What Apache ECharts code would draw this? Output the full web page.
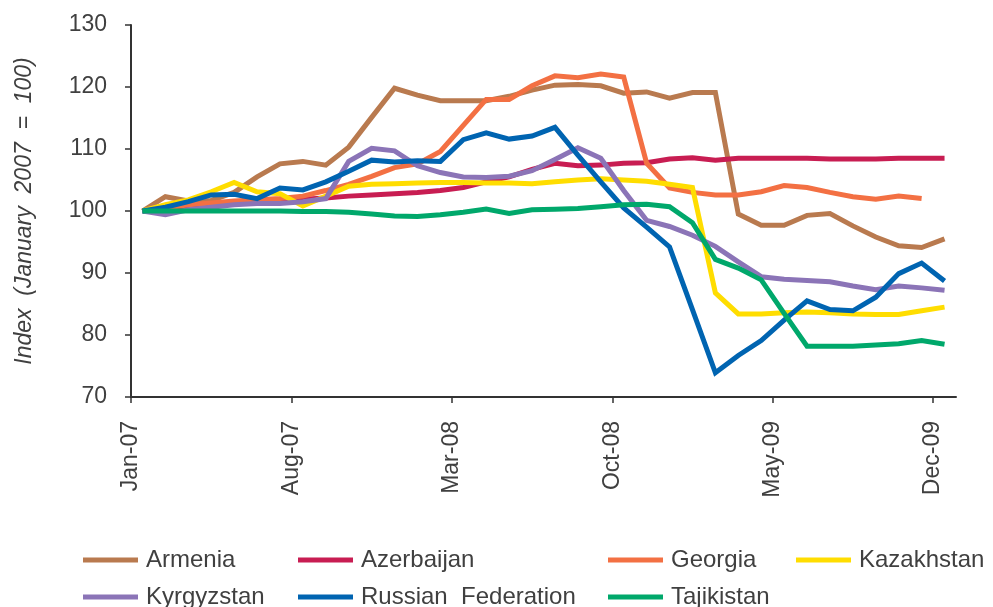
<!DOCTYPE html>
<html>
<head>
<meta charset="utf-8">
<script src="https://cdn.jsdelivr.net/npm/echarts@6/dist/echarts.min.js"></script>
<style>
  html, body { margin: 0; padding: 0; background: #fff; }
  #chart { width: 993px; height: 607px; }
</style>
</head>
<body>
<div id="chart"></div>
<script>
// Monthly categories, Jan 2007 - Dec 2009
const months = [
  'Jan-07','Feb-07','Mar-07','Apr-07','May-07','Jun-07','Jul-07','Aug-07','Sep-07','Oct-07','Nov-07','Dec-07',
  'Jan-08','Feb-08','Mar-08','Apr-08','May-08','Jun-08','Jul-08','Aug-08','Sep-08','Oct-08','Nov-08','Dec-08',
  'Jan-09','Feb-09','Mar-09','Apr-09','May-09','Jun-09','Jul-09','Aug-09','Sep-09','Oct-09','Nov-09','Dec-09'
];
// Months that carry a tick and a label
const labelledMonths = [0, 7, 14, 21, 28, 35];
const yTicks = [70, 80, 90, 100, 110, 120, 130];

// Index values (January 2007 = 100)
const armenia = [100, 102.3, 101.6, 101.7, 103.0, 105.5, 107.6, 108.0, 107.4, 110.3, 115.1, 119.8,
  118.7, 117.8, 117.8, 117.8, 118.5, 119.5, 120.3, 120.4, 120.2, 119.0, 119.2, 118.2,
  119.1, 119.1, 99.5, 97.7, 97.7, 99.3, 99.6, 97.6, 95.8, 94.4, 94.1, 95.5];
const azerbaijan = [100, 100.3, 100.6, 100.9, 101.2, 101.5, 101.7, 101.9, 102.1, 102.4, 102.6, 102.8,
  103.0, 103.3, 103.8, 104.7, 105.5, 106.7, 107.7, 107.3, 107.4, 107.7, 107.8, 108.4,
  108.6, 108.2, 108.5, 108.5, 108.5, 108.5, 108.4, 108.4, 108.4, 108.5, 108.5, 108.5];
const georgia = [100, 100.5, 101.0, 101.3, 101.6, 101.8, 102.0, 102.4, 103.3, 104.3, 105.6, 107.0,
  107.6, 109.6, 113.8, 118.0, 118.0, 120.2, 121.8, 121.5, 122.1, 121.6, 107.7, 103.7,
  103.0, 102.6, 102.6, 103.1, 104.1, 103.8, 103.0, 102.3, 101.9, 102.4, 102.0, null];
const kazakhstan = [100, 101.0, 101.8, 103.1, 104.6, 103.1, 102.8, 100.8, 102.4, 104.0, 104.3, 104.4,
  104.5, 104.6, 104.6, 104.5, 104.5, 104.4, 104.7, 105.0, 105.2, 105.0, 104.8, 104.3,
  103.8, 86.8, 83.4, 83.4, 83.6, 83.7, 83.6, 83.4, 83.3, 83.3, 83.9, 84.5];
const kyrgyzstan = [100, 99.4, 100.2, 100.6, 101.0, 101.2, 101.2, 101.5, 102.0, 108.0, 110.1, 109.7,
  107.3, 106.2, 105.5, 105.4, 105.6, 106.5, 108.3, 110.2, 108.5, 103.3, 98.5, 97.5,
  96.1, 94.3, 91.8, 89.4, 89.0, 88.8, 88.6, 87.9, 87.3, 87.9, 87.6, 87.2];
const russia = [100, 100.6, 101.5, 102.6, 102.7, 102.0, 103.7, 103.4, 104.7, 106.4, 108.2, 107.9,
  108.1, 108.0, 111.5, 112.6, 111.6, 112.1, 113.5, 109.0, 104.7, 100.5, 97.4, 94.2,
  84.1, 73.9, 76.7, 79.1, 82.4, 85.5, 84.1, 83.9, 86.1, 89.9, 91.6, 88.7];
const tajikistan = [100, 100, 100, 100, 100, 100, 100, 99.9, 99.9, 99.8, 99.5, 99.2,
  99.1, 99.4, 99.8, 100.3, 99.6, 100.2, 100.3, 100.4, 100.7, 101.0, 101.1, 100.7,
  98.1, 92.2, 90.8, 88.9, 83.5, 78.2, 78.2, 78.2, 78.4, 78.6, 79.1, 78.5];

const seriesDefs = [
  { name: 'Armenia', data: armenia, color: '#B97A4F' },
  { name: 'Azerbaijan', data: azerbaijan, color: '#C81D52' },
  { name: 'Georgia', data: georgia, color: '#F37043' },
  { name: 'Kazakhstan', data: kazakhstan, color: '#FFDD00' },
  { name: 'Kyrgyzstan', data: kyrgyzstan, color: '#8B74B7' },
  { name: 'Russian  Federation', data: russia, color: '#0064B1' },
  { name: 'Tajikistan', data: tajikistan, color: '#00A86B' }
];

// Legend placement: two rows, items at fixed columns
const legendPos = [
  { left: 83, top: 546 }, { left: 298, top: 546 }, { left: 608, top: 546 }, { left: 796, top: 546 },
  { left: 83, top: 583 }, { left: 298, top: 583 }, { left: 608, top: 583 }
];

const textColor = '#404040';
const fontFamily = '"Liberation Sans", Arial, sans-serif';

const chart = echarts.init(document.getElementById('chart'), null, { renderer: 'canvas' });

chart.setOption({
  animation: false,
  backgroundColor: '#ffffff',
  grid: { left: 131, right: 37, top: 25, bottom: 210, containLabel: false },
  legend: seriesDefs.map((s, i) => ({
    data: [{ name: s.name, icon: 'rect' }],
    left: legendPos[i].left,
    top: legendPos[i].top,
    padding: 0,
    itemWidth: 55,
    itemHeight: 5,
    selectedMode: false,
    textStyle: { color: textColor, fontSize: 24, fontFamily: fontFamily, padding: [0, 0, 0, 3], lineHeight: 28 }
  })),
  xAxis: {
    type: 'value',
    min: 0,
    max: months.length,
    splitLine: { show: false },
    axisLine: { show: true, onZero: false, lineStyle: { color: '#333333', width: 2 } },
    axisTick: { show: true, length: 6, customValues: labelledMonths, lineStyle: { color: '#333333', width: 1.5 } },
    axisLabel: {
      customValues: labelledMonths,
      rotate: 90,
      margin: 24,
      color: textColor,
      fontSize: 23,
      fontFamily: fontFamily,
      formatter: v => months[v]
    }
  },
  yAxis: {
    type: 'value',
    min: yTicks[0],
    max: yTicks[yTicks.length - 1],
    interval: 10,
    name: 'Index  (January  2007  =  100)',
    nameLocation: 'middle',
    nameRotate: 90,
    nameGap: 95,
    nameTextStyle: { color: textColor, fontSize: 23, fontStyle: 'italic', fontFamily: fontFamily },
    splitLine: { show: false },
    axisLine: { show: true, lineStyle: { color: '#333333', width: 2 } },
    axisTick: { show: true, length: 6, lineStyle: { color: '#333333', width: 1.5 } },
    axisLabel: { color: textColor, fontSize: 23, fontFamily: fontFamily, margin: 24 }
  },
  series: seriesDefs.map(s => ({
    name: s.name,
    type: 'line',
    data: s.data.map((v, i) => [i + 0.5, v]),
    showSymbol: false,
    symbol: 'none',
    connectNulls: false,
    color: s.color,
    lineStyle: { color: s.color, width: 5, join: 'miter' },
    emphasis: { disabled: true }
  }))
});
</script>
</body>
</html>
